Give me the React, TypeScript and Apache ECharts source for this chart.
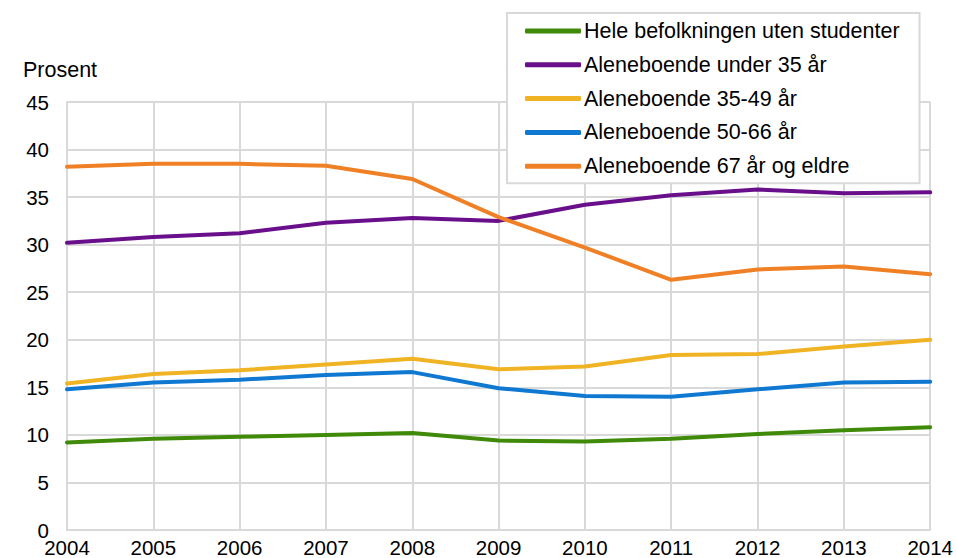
import React, { useEffect, useRef } from "react";
import * as echarts from "echarts";

const years = ["2004", "2005", "2006", "2007", "2008", "2009", "2010", "2011", "2012", "2013", "2014"];
const seriesNames = [
  "Hele befolkningen uten studenter",
  "Aleneboende under 35 år",
  "Aleneboende 35-49 år",
  "Aleneboende 50-66 år",
  "Aleneboende 67 år og eldre",
];
const hele = [9.2, 9.6, 9.8, 10.0, 10.2, 9.4, 9.3, 9.6, 10.1, 10.5, 10.8];
const under35 = [30.2, 30.8, 31.2, 32.3, 32.8, 32.5, 34.2, 35.2, 35.8, 35.4, 35.5];
const a35_49 = [15.4, 16.4, 16.8, 17.4, 18.0, 16.9, 17.2, 18.4, 18.5, 19.3, 20.0];
const a50_66 = [14.8, 15.5, 15.8, 16.3, 16.6, 14.9, 14.1, 14.0, 14.8, 15.5, 15.6];
const a67 = [38.2, 38.5, 38.5, 38.3, 36.9, 32.9, 29.7, 26.3, 27.4, 27.7, 26.9];
const colors = ["#3f8a08", "#6a0f8b", "#f0b323", "#0f78d0", "#f08025"];

export default function App() {
  const ref = useRef<HTMLDivElement>(null);
  useEffect(() => {
    if (!ref.current) return;
    const chart = echarts.init(ref.current, undefined, { renderer: "svg" });
    const data = [hele, under35, a35_49, a50_66, a67];
    const font = "Liberation Sans, Arial, sans-serif";
    chart.setOption({
      animation: false,
      color: colors,
      textStyle: { fontFamily: font },
      grid: { left: 67, right: 21, top: 102, bottom: 27, containLabel: false },
      legend: {
        orient: "vertical",
        left: 507,
        top: 13,
        padding: [7, 20, 6, 18],
        backgroundColor: "#ffffff",
        borderColor: "#d9d9d9",
        borderWidth: 2,
        itemWidth: 56,
        itemHeight: 5,
        itemGap: 11.8,
        icon: "roundRect",
        textStyle: { fontSize: 21.5, color: "#000", fontFamily: font, padding: [0, 0, 0, -2] },
        data: seriesNames,
      },
      graphic: [
        {
          type: "text",
          left: 23,
          top: 59,
          style: { text: "Prosent", fontSize: 21.5, fill: "#000", fontFamily: font },
        },
      ],
      xAxis: {
        type: "category",
        data: years,
        boundaryGap: false,
        axisLine: { show: true, lineStyle: { color: "#d9d9d9", width: 2 } },
        axisTick: { show: false },
        splitLine: { show: true, lineStyle: { color: "#d9d9d9", width: 2 } },
        axisLabel: { fontSize: 20.5, color: "#000", margin: 7, fontFamily: font },
      },
      yAxis: {
        type: "value",
        min: 0,
        max: 45,
        interval: 5,
        axisLine: { show: true, lineStyle: { color: "#d9d9d9", width: 2 } },
        axisTick: { show: false },
        splitLine: { show: true, lineStyle: { color: "#d9d9d9", width: 2 } },
        axisLabel: { fontSize: 20.5, color: "#000", margin: 18, fontFamily: font },
      },
      series: seriesNames.map((name, i) => ({
        name,
        type: "line",
        data: data[i],
        symbol: "none",
        lineStyle: { width: 4, color: colors[i], cap: "round" },
        itemStyle: { color: colors[i] },
      })),
    });
    return () => chart.dispose();
  }, []);
  return (
    <div
      ref={ref}
      style={{ width: 956, height: 558, position: "absolute", left: 0, top: 0, overflow: "hidden" }}
    />
  );
}
